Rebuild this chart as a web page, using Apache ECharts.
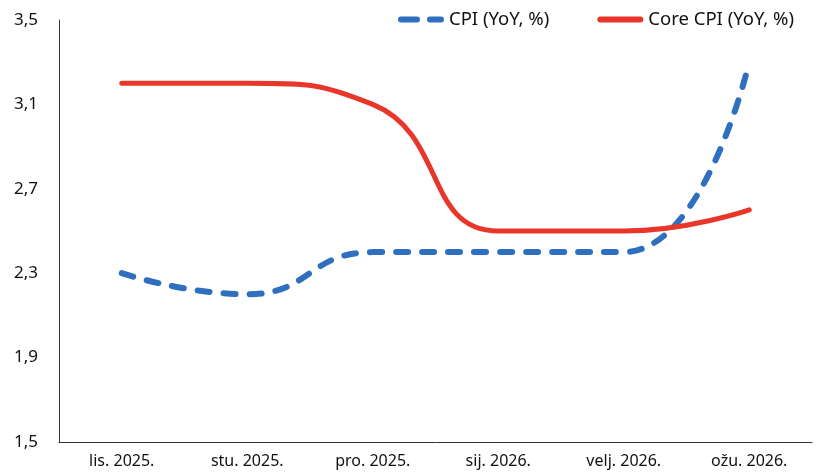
<!DOCTYPE html>
<html>
<head>
<meta charset="utf-8">
<script src="https://cdn.jsdelivr.net/npm/echarts@6/dist/echarts.min.js"></script>
<style>
  html, body { margin: 0; padding: 0; background: #fff; }
  #chart { width: 816px; height: 472px; }
</style>
</head>
<body>
<div id="chart"></div>
<script>
const months  = ['lis. 2025.', 'stu. 2025.', 'pro. 2025.', 'sij. 2026.', 'velj. 2026.', 'ožu. 2026.'];
const cpi     = [2.3, 2.2, 2.4, 2.4, 2.4, 3.3];
const coreCpi = [3.2, 3.2, 3.1, 2.5, 2.5, 2.6];

const FONT = '"Noto Sans", "Open Sans", sans-serif';

// legend icons: two rounded dashes for CPI, one rounded bar for core CPI
const dashIcon = 'path://M3,0H19A3,3 0 0 1 19,6H3A3,3 0 0 1 3,0Z M32,0H43A3,3 0 0 1 43,6H32A3,3 0 0 1 32,0Z';
const barIcon  = 'path://M3,0H43A3,3 0 0 1 43,6H3A3,3 0 0 1 3,0Z';

const chart = echarts.init(document.getElementById('chart'), null, { renderer: 'canvas' });

chart.setOption({
    animation: false,
    textStyle: { fontFamily: FONT },
    legend: {
        top: 5,
        right: 17,
        itemWidth: 46,
        itemHeight: 6,
        itemGap: 48,
        textStyle: { fontSize: 18.5, color: '#111', fontFamily: FONT },
        data: [
            { name: 'CPI (YoY, %)', icon: dashIcon },
            { name: 'Core CPI (YoY, %)', icon: barIcon }
        ]
    },
    grid: { left: 59, right: 4, top: 20, bottom: 30 },
    xAxis: {
        type: 'category',
        data: months,
        boundaryGap: true,
        axisLine: { lineStyle: { color: '#333', width: 1 } },
        axisTick: { show: false },
        axisLabel: { color: '#111', fontSize: 16, margin: 11 }
    },
    yAxis: {
        type: 'value',
        min: 1.5,
        max: 3.5,
        interval: 0.4,
        axisLine: { show: true, lineStyle: { color: '#333', width: 1 } },
        axisTick: { show: false },
        splitLine: { show: false },
        axisLabel: {
            color: '#111',
            fontSize: 17,
            margin: 45,
            align: 'left',
            formatter: (v) => v.toFixed(1).replace('.', ',')
        }
    },
    series: [
        {
            name: 'CPI (YoY, %)',
            type: 'line',
            data: cpi,
            smooth: 0.5,
            symbol: 'none',
            color: '#2f6fc0',
            lineStyle: { color: '#2f6fc0', width: 6, type: [12, 14], cap: 'round' }
        },
        {
            name: 'Core CPI (YoY, %)',
            type: 'line',
            data: coreCpi,
            smooth: 0.5,
            symbol: 'none',
            color: '#e8372a',
            lineStyle: { color: '#e8372a', width: 5, cap: 'round' }
        }
    ]
});
</script>
</body>
</html>
